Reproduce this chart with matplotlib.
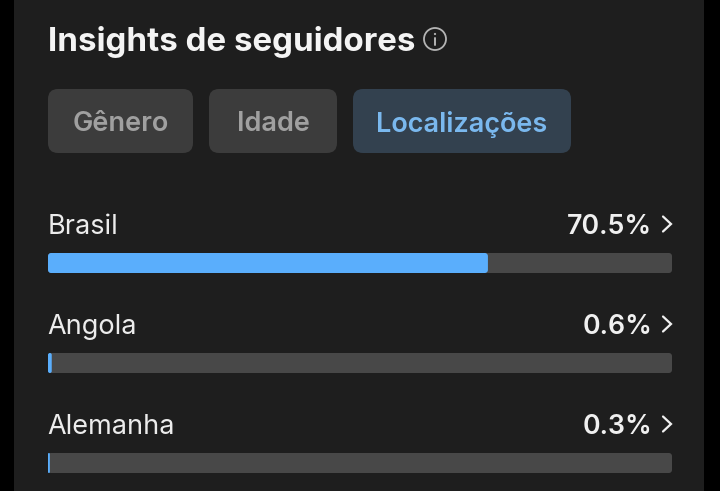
import matplotlib
matplotlib.use("Agg")
import matplotlib.pyplot as plt
from matplotlib.patches import FancyBboxPatch, Rectangle, Circle

# dados
paises = ["Brasil", "Angola", "Alemanha"]
valores = [70.5, 0.6, 0.3]
rotulos = ["70.5%", "0.6%", "0.3%"]
abas = ["Gênero", "Idade", "Localizações"]

FUNDO = "#1e1e1e"
TRILHA = "#484848"
AZUL = "#5aaefc"
FONTE = "Inter"

fig = plt.figure(figsize=(7.2, 4.91), dpi=100, facecolor="black")

# camada em pixels para o cartao, abas e textos
px = fig.add_axes([0, 0, 1, 1])
px.set_xlim(0, 720)
px.set_ylim(491, 0)
px.axis("off")

px.add_patch(Rectangle((14, 0), 690, 491, color=FUNDO, lw=0))


def caixa(ax, x, y, w, h, r, cor, aspecto=1.0, z=2):
    p = FancyBboxPatch((x, y), w, h, boxstyle=f"round,pad=0,rounding_size={r}",
                       mutation_aspect=aspecto, fc=cor, ec="none", lw=0, zorder=z)
    ax.add_patch(p)


px.text(48, 42, "Insights de seguidores", color="#f4f4f4", fontsize=23.8,
        fontweight="bold", family=FONTE, va="center", ha="left")

# icone de informacao
px.add_patch(Circle((435, 39), 11, fc="none", ec="#b4b4b4", lw=1.3))
px.add_patch(Circle((435, 34), 1.1, fc="#b4b4b4", ec="none"))
px.plot([435, 435], [38, 45], color="#b4b4b4", lw=1.4, solid_capstyle="round")

# abas
geom_abas = [(48, 193), (209, 337), (353, 571)]
for i, (nome, (x0, x1)) in enumerate(zip(abas, geom_abas)):
    ativa = nome == "Localizações"
    caixa(px, x0, 89, x1 - x0, 64, 10, "#33414f" if ativa else "#3c3c3c")
    px.text((x0 + x1) / 2, 124, nome, color="#7ab8ee" if ativa else "#a0a0a0",
            fontsize=19.5, fontweight="semibold", family=FONTE, va="center", ha="center")

# barras
ax = fig.add_axes([48 / 720, 1 - 473 / 491, 624 / 720, 220 / 491])
ax.set_xlim(0, 100)
ax.set_ylim(2.1, -0.1)
ax.axis("off")

pos = list(range(len(paises)))
trilhas = ax.barh(pos, [100] * len(pos), height=0.2)
azuis = ax.barh(pos, valores, height=0.2)
asp = (1 / 100) / (1 / 6.24)
for grupo, cor, z in ((trilhas, TRILHA, 2), (azuis, AZUL, 3)):
    for b in grupo:
        b.set_visible(False)
        r = min(b.get_width() / 2, 0.5)
        caixa(ax, b.get_x(), b.get_y(), b.get_width(), b.get_height(), r, cor, asp, z)

# textos de cada linha e setas
for i, pais in enumerate(paises):
    y = 227 + i * 100
    px.text(47.5, y, pais, color="#ececec", fontsize=19.5, family=FONTE, va="center", ha="left")
    px.text(652.5, y, rotulos[i], color="#f0f0f0", fontsize=19.2, fontweight="semibold",
            family=FONTE, va="center", ha="right")
    px.plot([663, 671, 663], [y - 10.5, y - 3, y + 4.5], color="#f0f0f0", lw=1.6,
            solid_joinstyle="miter", solid_capstyle="round")

fig.savefig("out.png", dpi=100, facecolor=fig.get_facecolor())
